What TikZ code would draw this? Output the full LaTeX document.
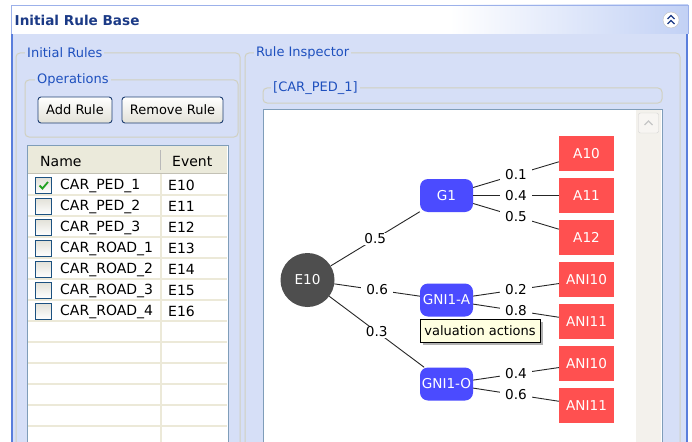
\documentclass[tikz,border=0pt]{standalone}
\usepackage{fontspec}
\setmainfont{DejaVu Sans}
\usetikzlibrary{shapes.geometric}

\definecolor{panelbg}{HTML}{D6DFF7}
\definecolor{titleR}{HTML}{C2D1F5}
\definecolor{titletext}{HTML}{1B3A86}
\definecolor{edgeblue}{HTML}{5A7EDC}
\definecolor{grpline}{HTML}{D0D0BF}
\definecolor{grptext}{HTML}{1E50BE}
\definecolor{btnline}{HTML}{1F3F72}
\definecolor{btnbottom}{HTML}{E2E1D8}
\definecolor{tblline}{HTML}{7F9DB9}
\definecolor{headbg}{HTML}{EBEADB}
\definecolor{gridline}{HTML}{ECE9D8}
\definecolor{chkline}{HTML}{1C5180}
\definecolor{chkgreen}{HTML}{21A121}
\definecolor{scrollbg}{HTML}{F3F1EC}
\definecolor{nodeblue}{HTML}{4B4BFF}
\definecolor{nodered}{HTML}{FF5050}
\definecolor{nodegrey}{HTML}{4E4E4E}
\definecolor{tipbg}{HTML}{FFFFE1}

\tikzset{
  grplabel/.style={anchor=west, fill=panelbg, inner xsep=2pt, inner ysep=0pt, text=grptext},
  grpframe/.style={draw=grpline, line width=1pt, rounded corners=4pt},
  btn/.style={draw=btnline, line width=0.9pt, rounded corners=3pt, top color=white,
    bottom color=btnbottom, minimum height=26pt, inner sep=0pt},
  chkbox/.style={draw=chkline, line width=0.9pt, top color=btnbottom, bottom color=white,
    minimum size=16pt, inner sep=0pt},
  celltext/.style={anchor=west, inner sep=0pt, font=\fontsize{14}{16}\selectfont},
  root/.style={circle, fill=nodegrey, text=white, minimum size=54pt, inner sep=0pt},
  gate/.style={rounded corners=8pt, fill=nodeblue, text=white, minimum width=53pt,
    minimum height=33pt, inner sep=0pt},
  leaf/.style={fill=nodered, text=white, minimum width=55pt, minimum height=35pt, inner sep=0pt},
  conn/.style={draw=black!85, line width=0.9pt},
  prob/.style={fill=white, inner xsep=5pt, inner ysep=1pt, text=black},
}

\begin{document}
\begin{tikzpicture}[x=1pt, y=-1pt, font=\fontsize{13}{15}\selectfont]
\useasboundingbox (0,0) rectangle (692,441);
\clip (0,0) rectangle (692,441);

% ---- title bar ----
\fill[white] (11,5) rectangle (450,34);
\shade[left color=white, right color=titleR] (450,5) rectangle (688,34);
\draw[edgeblue!60, line width=0.8pt] (11,34) -- (11,5) -- (688,5) -- (688,34);
\node[anchor=west, inner sep=0pt, text=titletext, font=\fontsize{13.6}{15}\selectfont\bfseries]
  (title) at (14.5,20) {Initial Rule Base};
\node[circle, draw=gray!50, fill=white, minimum size=16pt, inner sep=0pt] (collapse) at (671,20) {};
\draw[titletext, line width=1.2pt] ([shift={(-3.5,-1)}]collapse.center) -- ([shift={(0,-4.5)}]collapse.center) -- ([shift={(3.5,-1)}]collapse.center);
\draw[titletext, line width=1.2pt] ([shift={(-3.5,4)}]collapse.center) -- ([shift={(0,0.5)}]collapse.center) -- ([shift={(3.5,4)}]collapse.center);

% ---- panel body ----
\fill[panelbg] (11,34) rectangle (688,450);
\draw[edgeblue, line width=2pt] (12,34) -- (12,450);
\draw[edgeblue, line width=2pt] (687,34) -- (687,450);

% ---- Initial Rules group ----
\draw[grpframe] (16,53) rectangle (240,470);
\node[grplabel] (grpRules) at (25,53) {Initial Rules};
\draw[grpframe] (25,80) rectangle (238,137);
\node[grplabel] (grpOps) at (35,80) {Operations};
\node[btn, minimum width=74pt] (addrule) at (75,110) {Add Rule};
\node[btn, minimum width=101pt] (removerule) at (172.5,110) {Remove Rule};

% rule table
\fill[white] (27,145) rectangle (228,460);
\fill[headbg] (28,146) rectangle (227,174);
\draw[gridline!80!black!90, line width=1.5pt] (28,173.5) -- (227,173.5);
\draw[gray!55, line width=0.8pt] (160,150) -- (160,170);
\foreach \yy in {195,216,...,440} \draw[gridline, line width=1.2pt] (28,\yy) -- (227,\yy);
\draw[gridline, line width=1.2pt] (161,174) -- (161,460);
\draw[tblline, line width=1pt] (27,145) rectangle (228,460);
\node[celltext] (hName) at (40,161) {Name};
\node[celltext] (hEvent) at (172,161) {Event};

\foreach \nm/\ev [count=\k from 0] in {CAR\_PED\_1/E10, CAR\_PED\_2/E11, CAR\_PED\_3/E12,
    CAR\_ROAD\_1/E13, CAR\_ROAD\_2/E14, CAR\_ROAD\_3/E15, CAR\_ROAD\_4/E16} {
  \pgfmathsetmacro{\yc}{185.5+21*\k}
  \node[chkbox] (chk\k) at (43.5,\yc) {};
  \node[celltext] (name\k) at (60,\yc) {\nm};
  \node[celltext] (event\k) at (168,\yc) {\ev};
}
\draw[chkgreen, line width=1.8pt] ([shift={(-4,0)}]chk0.center) -- ([shift={(-1,3)}]chk0.center) -- ([shift={(4.5,-3.5)}]chk0.center);

% ---- Rule Inspector group ----
\draw[grpframe] (245,53) rectangle (680,470);
\node[grplabel] (grpInsp) at (254,53) {Rule Inspector};
\draw[grpframe] (263,88) rectangle (662,103);
\node[grplabel] (grpRule) at (271,88) {[CAR\_PED\_1]};

% canvas with scroll bar
\fill[white] (263,109) rectangle (662,460);
\fill[scrollbg] (636,110) rectangle (661,460);
\draw[tblline, line width=1pt] (263,109) rectangle (662,460);
\node[draw=gray!35, fill=scrollbg!70!white, rounded corners=2pt, minimum width=20pt,
  minimum height=20pt, inner sep=0pt] (scrollup) at (648.5,123) {};
\draw[gray!45, line width=1.3pt] ([shift={(-4,2)}]scrollup.center) -- ([shift={(0,-2)}]scrollup.center) -- ([shift={(4,2)}]scrollup.center);

% ---- rule tree ----
\begin{scope}[font=\fontsize{13.6}{15}\selectfont]
\node[root] (E10) at (307.5,280) {E10};
\node[gate] (G1) at (446.5,195.5) {G1};
\node[gate] (GA) at (446.5,300) {GNI1-A};
\node[gate] (GO) at (446.5,384) {GNI1-O};
\node[leaf] (A10) at (586.5,153.5) {A10};
\node[leaf] (A11) at (586.5,195.5) {A11};
\node[leaf] (A12) at (586.5,237.5) {A12};
\node[leaf] (ANI10a) at (586.5,279.5) {ANI10};
\node[leaf] (ANI11a) at (586.5,321.5) {ANI11};
\node[leaf] (ANI10b) at (586.5,363.5) {ANI10};
\node[leaf] (ANI11b) at (586.5,405.5) {ANI11};

\draw[conn] (E10) -- node[prob] {0.5} (G1);
\draw[conn] (E10) -- node[prob] {0.6} (GA);
\draw[conn] (E10) -- node[prob] {0.3} (GO);
\draw[conn] (G1) -- node[prob] {0.1} (A10);
\draw[conn] (G1) -- node[prob] {0.4} (A11);
\draw[conn] (G1) -- node[prob] {0.5} (A12);
\draw[conn] (GA) -- node[prob] {0.2} (ANI10a);
\draw[conn] (GA) -- node[prob] {0.8} (ANI11a);
\draw[conn] (GO) -- node[prob] {0.4} (ANI10b);
\draw[conn] (GO) -- node[prob] {0.6} (ANI11b);
\end{scope}

% tooltip
\fill[black!30] (423,322) rectangle (543,345);
\node[draw=black, line width=0.8pt, fill=tipbg, minimum width=120pt, minimum height=23pt,
  inner sep=0pt] (tip) at (480,330.5) {valuation actions};
\end{tikzpicture}
\end{document}
